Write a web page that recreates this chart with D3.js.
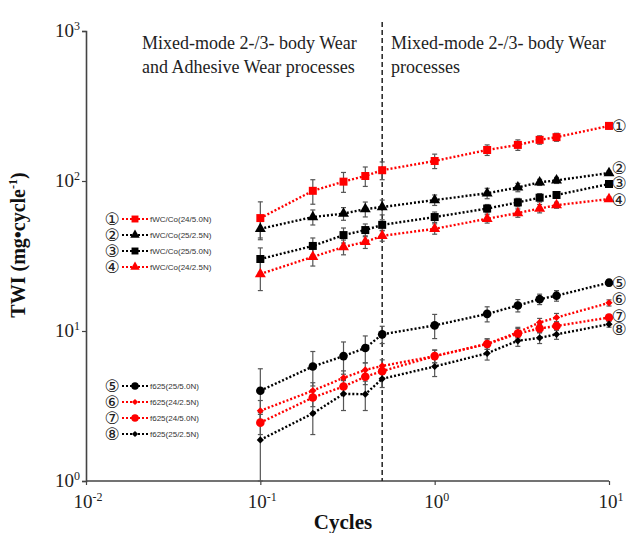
<!DOCTYPE html>
<html>
<head>
<meta charset="utf-8">
<script src="https://d3js.org/d3.v7.min.js"></script>
<style>
  body { margin: 0; background: #fff; }
  .serif { font-family: "Liberation Serif", "Times New Roman", serif; }
</style>
</head>
<body>
<div id="my_dataviz"></div>
<script>
    // cycles (x) shared by every series
    var cycles = [0.1, 0.2, 0.3, 0.4, 0.5, 1, 2, 3, 4, 5, 10];

    // TWI values, with error bar half-lengths
    var s1 = [56.6, 86, 99, 108, 118, 136, 161, 174, 188, 196, 233];
    var e1 = [16, 16, 15, 16, 16, 15, 13, 14, 12, 12, 11];
    var s2 = [48, 57.5, 60.6, 65, 67, 74.7, 82.8, 90.6, 98, 101, 113];
    var e2 = [6.3, 6.6, 5.9, 7.4, 7.6, 6, 6.6, 5.8, 4.6, 4.7, 3.5];
    var s3 = [30.2, 36.9, 43.6, 47.1, 51, 57.5, 65.5, 72, 77.4, 80.7, 95.5];
    var e3 = [5.6, 4.8, 5, 4.6, 4.1, 4.6, 4.2, 4.6, 5, 3.8, 3];
    var s4 = [24, 31.2, 36.3, 39.3, 43.1, 48, 56, 61.2, 65.5, 69, 75.8];
    var e4 = [5.4, 4.1, 4.1, 3.8, 3.4, 3.8, 3.6, 3.9, 4.2, 3.2, 2.4];
    var s5 = [4.0, 5.8, 6.8, 7.7, 9.5, 10.9, 13, 14.8, 16.3, 17.2, 21];
    var e5 = [1.6, 1.5, 1.65, 1.57, 1.25, 2, 1.5, 1.4, 1.3, 1.4, 1];
    var s6 = [2.94, 4.0, 4.87, 5.5, 5.85, 6.8, 8.2, 9.8, 11.4, 12.3, 15.4];
    var e6 = [0.5, 0.52, 0.55, 0.63, 0.57, 0.66, 0.66, 0.78, 0.73, 0.79, 0.72];
    var s7 = [2.45, 3.6, 4.27, 4.95, 5.4, 6.8, 8.2, 9.6, 10.4, 10.8, 12.3];
    var e7 = [0.41, 0.47, 0.49, 0.56, 0.52, 0.66, 0.66, 0.77, 0.67, 0.69, 0.58];
    var s8 = [1.88, 2.82, 3.81, 3.79, 4.8, 5.8, 7.1, 8.6, 9.0, 9.5, 11.1];
    var e8 = [0.9, 0.78, 0.86, 0.84, 0.6, 0.83, 0.7, 0.7, 0.75, 0.7, 0.5];

    var seriesNames = ["fWC/Co(24/5.0N)", "fWC/Co(25/2.5N)", "fWC/Co(25/5.0N)", "fWC/Co(24/2.5N)",
                       "f625(25/5.0N)", "f625(24/2.5N)", "f625(24/5.0N)", "f625(25/2.5N)"];
    var seriesTags = ["\u2460", "\u2461", "\u2462", "\u2463", "\u2464", "\u2465", "\u2466", "\u2467"];

    var xTicks = [0.01, 0.1, 1, 10];
    var yTicks = [1, 10, 100, 1000];
    var boundary = 0.5;   // dashed line between the two wear regimes

    // styling per series (colour, marker) kept apart from the values
    var styles = [
        { color: "#f00", shape: "square" },
        { color: "#000", shape: "triangle" },
        { color: "#000", shape: "square" },
        { color: "#f00", shape: "triangle" },
        { color: "#000", shape: "circle" },
        { color: "#f00", shape: "diamond" },
        { color: "#f00", shape: "circle" },
        { color: "#000", shape: "diamond" }
    ];
    var tagNudge = [0, -5, -1, 1, 0, -4, -2, 5];

    var values = [s1, s2, s3, s4, s5, s6, s7, s8];
    var errors = [e1, e2, e3, e4, e5, e6, e7, e8];
    var series = values.map(function(v, i) {
        return {
            name: seriesNames[i], tag: seriesTags[i], style: styles[i], nudge: tagNudge[i],
            points: cycles.map(function(c, j) { return { x: c, y: v[j], e: errors[i][j] }; })
        };
    });

    var W = 626, H = 533;
    var svg = d3.select("#my_dataviz").append("svg")
        .attr("width", W).attr("height", H)
        .style("display", "block");
    svg.append("rect").attr("width", W).attr("height", H).attr("fill", "#fff");

    var x = d3.scaleLog().domain([0.01, 10]).range([86, 609]);
    var y = d3.scaleLog().domain([1, 1000]).range([481, 31]);

    // marker shapes
    function symbolFor(shape, k) {
        k = k || 1;
        if (shape === "square") return d3.symbol().type(d3.symbolSquare).size(64 * k)();
        if (shape === "triangle") return d3.symbol().type(d3.symbolTriangle).size(52 * k)();
        if (shape === "circle") return d3.symbol().type(d3.symbolCircle).size(58 * k)();
        return d3.symbol().type(d3.symbolSquare).size(26 * k)();
    }
    function rot(shape) { return shape === "diamond" ? " rotate(45)" : ""; }

    // axes
    var axisColor = "#444";
    var xAxis = svg.append("g")
        .attr("transform", "translate(0," + y(1) + ")")
        .call(d3.axisBottom(x).tickValues(xTicks).tickSize(4).tickFormat(""));
    var yAxis = svg.append("g")
        .attr("transform", "translate(" + x(0.01) + ",0)")
        .call(d3.axisLeft(y).tickValues(yTicks).tickSize(4).tickFormat(""));
    [xAxis, yAxis].forEach(function(g) {
        g.select(".domain").attr("stroke", axisColor).attr("stroke-width", 1.6);
        g.selectAll(".tick line").attr("stroke", axisColor).attr("stroke-width", 1.2);
    });
    xAxis.select(".domain").attr("d", "M" + x(0.01) + ",0H" + x(10));

    // "10^n" tick labels
    function powerLabel(v) {
        var t = svg.append("text").attr("class", "serif")
            .attr("fill", "#222").style("font-size", "19px");
        t.append("tspan").text("10");
        t.append("tspan").attr("dy", -7).style("font-size", "12px")
            .text(String(Math.round(Math.log10(v))));
        return t;
    }
    xTicks.forEach(function(v) {
        var t = powerLabel(v).attr("y", 508);
        t.attr("x", x(v) - t.node().getComputedTextLength() / 2 + 2);
    });
    yTicks.forEach(function(v) {
        var t = powerLabel(v).attr("y", y(v) + 6);
        t.attr("x", 80 - t.node().getComputedTextLength());
    });

    // axis titles
    svg.append("text").attr("class", "serif")
        .attr("x", 343).attr("y", 529).attr("text-anchor", "middle")
        .style("font-size", "21px").style("font-weight", "bold").attr("fill", "#111")
        .text("Cycles");
    var yt = svg.append("text").attr("class", "serif")
        .attr("transform", "translate(25,245) rotate(-90)").attr("text-anchor", "middle")
        .style("font-size", "20px").style("font-weight", "bold").attr("fill", "#111");
    yt.append("tspan").text("TWI  (mg\u2022cycle");
    yt.append("tspan").attr("dy", -8).style("font-size", "12px").text("-1");
    yt.append("tspan").attr("dy", 8).text(")");

    // regime boundary and annotations
    svg.append("line")
        .attr("x1", x(boundary)).attr("x2", x(boundary))
        .attr("y1", 22).attr("y2", y(1))
        .attr("stroke", "#222").attr("stroke-width", 1.5)
        .attr("stroke-dasharray", "5,3");
    var notes = [
        { x: 142, lines: ["Mixed-mode 2-/3- body Wear", "and Adhesive Wear processes"] },
        { x: 391, lines: ["Mixed-mode 2-/3- body Wear", "processes"] }
    ];
    notes.forEach(function(n) {
        n.lines.forEach(function(l, i) {
            svg.append("text").attr("class", "serif")
                .attr("x", n.x).attr("y", 49 + i * 24)
                .style("font-size", "18px").attr("fill", "#222")
                .text(l);
        });
    });

    // series: error bars, dotted lines, markers
    var line = d3.line().x(function(d) { return x(d.x); }).y(function(d) { return y(d.y); });
    var plot = svg.append("g");

    series.forEach(function(s) {
        var g = plot.append("g");
        g.selectAll("g.err").data(s.points).enter().append("g").attr("class", "err")
            .each(function(d) {
                var e = d3.select(this);
                var top = y(d.y + d.e), bot = y(Math.max(d.y - d.e, 1));
                e.append("line").attr("x1", x(d.x)).attr("x2", x(d.x))
                    .attr("y1", top).attr("y2", bot);
                [top, bot].forEach(function(c) {
                    e.append("line").attr("x1", x(d.x) - 2.5).attr("x2", x(d.x) + 2.5)
                        .attr("y1", c).attr("y2", c);
                });
            })
            .selectAll("line").attr("stroke", "#555").attr("stroke-width", 1.2);
    });

    series.forEach(function(s) {
        plot.append("path").datum(s.points)
            .attr("d", line)
            .attr("fill", "none")
            .attr("stroke", s.style.color)
            .attr("stroke-width", 2.4)
            .attr("stroke-dasharray", "2,2");
    });

    var tagFont = "17px";
    series.forEach(function(s) {
        plot.selectAll(null).data(s.points).enter().append("path")
            .attr("d", symbolFor(s.style.shape))
            .attr("transform", function(d) {
                return "translate(" + x(d.x) + "," + y(d.y) + ")" + rot(s.style.shape);
            })
            .attr("fill", s.style.color);

        // circled tag at the end of each series
        var last = s.points[s.points.length - 1];
        svg.append("text")
            .attr("x", 619).attr("y", y(last.y) + s.nudge + 6)
            .attr("text-anchor", "middle")
            .style("font-family", "DejaVu Sans").style("font-size", tagFont)
            .attr("fill", "#222")
            .text(s.tag);
    });

    // legends (two blocks of four)
    var legendTop = [219, 386];
    series.forEach(function(s, i) {
        var block = i < 4 ? 0 : 1;
        var ly = legendTop[block] + (i % 4) * 16;
        var g = svg.append("g");
        g.append("text")
            .attr("x", 112).attr("y", ly + 6).attr("text-anchor", "middle")
            .style("font-family", "DejaVu Sans").style("font-size", tagFont)
            .attr("fill", "#222").text(s.tag);
        g.append("line")
            .attr("x1", 122).attr("x2", 148).attr("y1", ly).attr("y2", ly)
            .attr("stroke", s.style.color).attr("stroke-width", 2.2)
            .attr("stroke-dasharray", "2,2");
        g.append("path")
            .attr("d", symbolFor(s.style.shape, 0.75))
            .attr("transform", "translate(135," + ly + ")" + rot(s.style.shape))
            .attr("fill", s.style.color);
        g.append("text")
            .attr("x", 150).attr("y", ly + 3)
            .style("font-family", "Liberation Sans").style("font-size", "8px")
            .attr("fill", "#333").text(s.name);
    });
</script>
</body>
</html>
